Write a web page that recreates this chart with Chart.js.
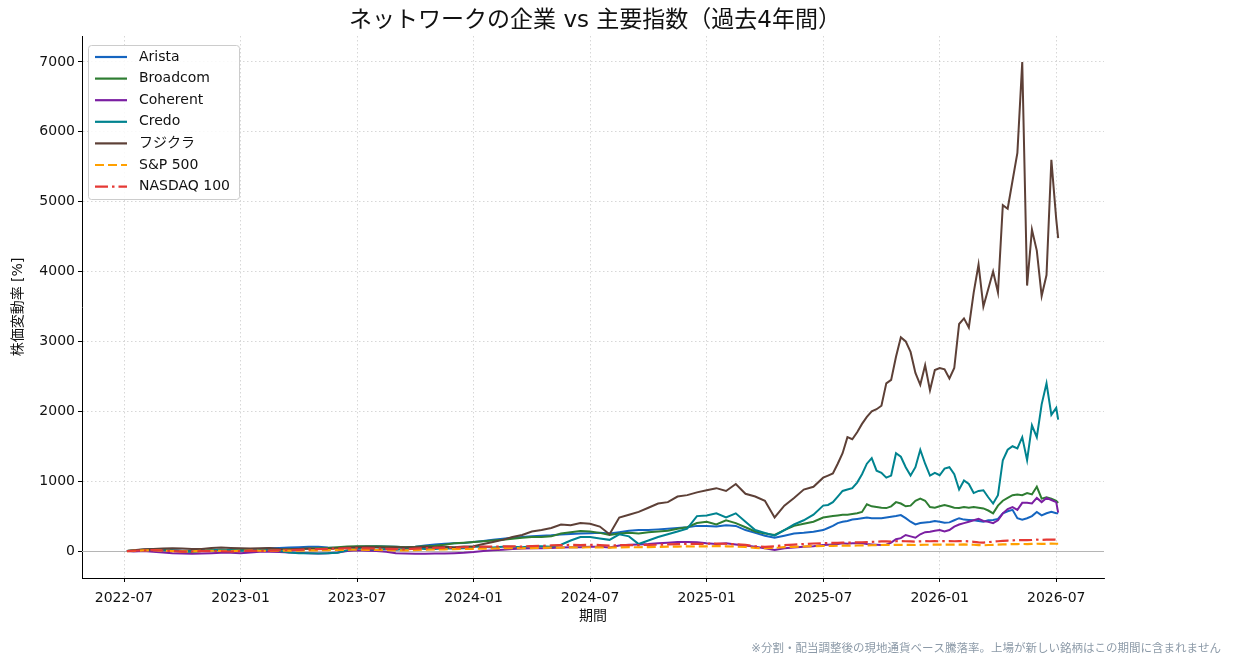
<!DOCTYPE html>
<html lang="ja">
<head>
<meta charset="utf-8">
<title>ネットワークの企業 vs 主要指数（過去4年間）</title>
<script src="https://cdn.jsdelivr.net/npm/chart.js@4.4.1/dist/chart.umd.min.js"></script>
<style>
  html, body { margin: 0; padding: 0; background: #fff; }
  #wrap { width: 1233px; height: 666px; }
</style>
</head>
<body>
<div id="wrap"><canvas id="chart" width="1233" height="666"></canvas></div>
<script>
// x positions: months counted from 2022-01 (6 = 2022-07)
const months = [
  6.15, 6.5, 7, 7.5, 8, 8.5, 9, 9.5, 10, 10.5, 11, 11.5, 12, 12.5, 13, 13.5, 14, 14.5,
  15, 15.5, 16, 16.5, 17, 17.5, 18, 18.5, 19, 19.5, 20, 20.5, 21, 21.5, 22, 22.5, 23, 23.5,
  24, 24.5, 25, 25.5, 26, 26.5, 27, 27.5, 28, 28.5, 29, 29.5, 30, 30.5, 31, 31.5, 32, 32.5,
  33, 33.5, 34, 34.5, 35, 35.5, 36, 36.5, 37, 37.5, 38, 38.5, 39, 39.5, 40, 40.5, 41, 41.5, 42,
  42.25, 42.5, 42.75, 43, 43.25, 43.5, 43.75, 44, 44.25, 44.5, 44.75, 45, 45.25, 45.5, 45.75, 46,
  46.25, 46.5, 46.75, 47, 47.25, 47.5, 47.75, 48, 48.25, 48.5, 48.75, 49, 49.25, 49.5, 49.75, 50,
  50.25, 50.5, 50.75, 51, 51.25, 51.5, 51.75, 52, 52.25, 52.5, 52.75, 53, 53.25, 53.5, 53.75, 54, 54.1
];

const arista = [
  0, 5, 10, 20, 20, 10, 5, 0, 10, 15, 20, 15, 10, 20, 30, 40, 45, 50,
  55, 60, 60, 50, 45, 50, 60, 65, 70, 65, 60, 55, 60, 80, 95, 105, 110, 115,
  130, 145, 160, 175, 190, 200, 210, 220, 225, 235, 245, 250, 255, 260, 250, 270, 290, 300,
  300, 310, 320, 330, 340, 360, 360, 350, 370, 360, 300, 260, 220, 190, 220, 250, 260, 275, 300,
  330, 360, 400, 420, 430, 450, 460, 470, 480, 470, 470, 470, 480, 490, 500, 515,
  470, 420, 380, 400, 410, 415, 430, 420, 405, 410, 440, 470, 450, 445, 440, 430,
  420, 440, 445, 460, 540, 570, 590, 470, 450, 470, 500, 560, 510, 540, 560, 540, 540
];
const broadcom = [
  0, 5, 15, 20, 10, 0, -5, -10, 0, 10, 15, 10, 10, 15, 20, 20, 20, 25,
  30, 35, 40, 45, 55, 65, 70, 70, 70, 65, 60, 55, 60, 70, 75, 90, 110, 120,
  130, 140, 150, 160, 175, 190, 200, 200, 210, 250, 270, 285, 280, 260, 230, 250, 260, 250,
  270, 280, 290, 320, 340, 400, 420, 380, 440, 400, 340, 280, 250, 230, 300, 360, 390, 420, 480,
  490, 500, 510, 520, 520, 530, 540, 560, 670, 640, 630, 620, 615, 640, 700, 680,
  640, 650, 720, 750, 720, 630, 620, 640, 660, 640, 620, 615, 630, 620, 630, 620,
  610, 580, 540, 650, 720, 760, 800, 810, 800, 830, 810, 920, 750, 770, 750, 720, 690
];
const coherent = [
  0, -5, 0, -10, -20, -30, -35, -40, -35, -30, -25, -25, -30, -20, -10, -10, -15, -20,
  -25, -30, -35, -30, -20, 0, 10, 5, 0, -10, -30, -35, -40, -40, -35, -35, -30, -25,
  -15, 0, 10, 20, 30, 35, 40, 40, 45, 50, 55, 55, 60, 60, 50, 80, 90, 95,
  100, 110, 120, 130, 130, 125, 110, 100, 110, 95, 80, 60, 40, 15, 40, 50, 60, 70, 85,
  90, 95, 100, 110, 105, 110, 110, 110, 100, 95, 90, 85, 90, 120, 170, 185,
  230, 210, 190, 240, 270, 275, 290, 300, 280, 300, 350, 380, 400, 420, 440, 460,
  430, 420, 400, 440, 540, 600, 630, 590, 690, 690, 680, 760, 700, 760, 730, 700, 550
];
const credo = [
  0, 10, 20, 30, 20, 10, 0, -10, 0, 10, 20, 10, 5, 10, 30, 20, 0, -20,
  -30, -30, -35, -30, -25, 10, 40, 30, 20, 30, 20, 30, 40, 30, 30, 40, 35, 40,
  60, 60, 50, 60, 60, 55, 70, 70, 60, 90, 150, 200, 200, 180, 160, 240, 210, 100,
  150, 200, 240, 280, 320, 500, 510, 540, 480, 540, 420, 300, 260, 220, 300, 380, 440, 520, 650,
  660, 700, 780, 860, 880, 900, 980, 1100, 1250, 1330, 1150, 1120, 1050, 1080, 1400, 1350,
  1200, 1080, 1200, 1450, 1250, 1080, 1120, 1085, 1180, 1200, 1100, 880, 1010, 960, 830, 860,
  870, 770, 680, 800, 1300, 1450, 1500, 1470, 1630, 1300, 1800, 1630, 2100, 2400, 1950, 2050, 1880
];
const fujikura = [
  0, 10, 25, 30, 35, 40, 35, 30, 30, 45, 50, 45, 40, 35, 40, 45, 30, 25,
  30, 35, 30, 30, 40, 50, 55, 60, 55, 50, 55, 50, 55, 60, 55, 60, 55, 65,
  70, 100, 130, 160, 200, 230, 280, 300, 330, 380, 370, 400, 390, 350, 240, 480, 520, 560,
  620, 680, 700, 780, 800, 840, 870, 900, 860, 960, 820, 780, 720, 480, 650, 760, 880, 920, 1050,
  1080, 1110, 1250, 1400, 1630, 1600, 1700, 1820, 1920, 2000, 2030, 2080, 2400, 2450, 2780, 3060,
  3000, 2850, 2550, 2380, 2660, 2300, 2590, 2620, 2600, 2470, 2620, 3250, 3330, 3200, 3700, 4100,
  3500, 3750, 4000, 3700, 4950, 4900, 5300, 5700, 7000, 3800, 4600, 4300, 3650, 3950, 5600, 4750, 4480
];
const sp500 = [
  0, 3, 8, 12, 6, 0, -6, -5, 2, 4, 3, 0, 3, 6, 4, 2, 4, 6,
  7, 8, 10, 14, 16, 18, 20, 18, 15, 12, 10, 8, 14, 20, 22, 25, 27, 30,
  32, 34, 36, 40, 42, 40, 43, 45, 48, 50, 52, 50, 54, 52, 48, 52, 55, 54,
  57, 58, 62, 64, 66, 65, 67, 70, 68, 64, 58, 45, 40, 45, 55, 60, 65, 70, 72,
  73, 74, 76, 77, 77, 78, 79, 80, 82, 83, 84, 86, 87, 86, 88, 89,
  88, 87, 86, 89, 90, 90, 91, 91, 92, 93, 92, 93, 94, 92, 90, 85,
  82, 86, 89, 92, 95, 97, 99, 100, 101, 100, 102, 104, 103, 104, 105, 104, 104
];
const nasdaq100 = [
  0, 4, 10, 15, 8, 0, -8, -7, -2, 0, -3, -7, -2, 5, 3, 5, 10, 14,
  17, 22, 27, 32, 36, 38, 40, 38, 34, 30, 26, 24, 34, 42, 44, 48, 50, 54,
  58, 62, 64, 66, 66, 64, 70, 74, 80, 84, 88, 84, 90, 86, 78, 84, 86, 84,
  88, 90, 94, 98, 104, 102, 104, 108, 104, 96, 88, 68, 60, 68, 84, 92, 100, 108, 112,
  114, 116, 118, 120, 121, 122, 124, 126, 128, 131, 134, 137, 139, 136, 140, 142,
  140, 137, 134, 139, 141, 140, 141, 140, 142, 143, 140, 141, 142, 138, 132, 124,
  120, 128, 134, 140, 146, 150, 153, 156, 158, 155, 158, 162, 160, 162, 164, 162, 162
];

const seriesNames = ["Arista", "Broadcom", "Coherent", "Credo", "フジクラ", "S&P 500", "NASDAQ 100"];
const seriesValues = [arista, broadcom, coherent, credo, fujikura, sp500, nasdaq100];
const seriesColors = ["#1565C0", "#2E7D32", "#7B1FA2", "#00838F", "#5D4037", "#FFA000", "#E53935"];
const seriesDashes = [[], [], [], [], [], [9, 4], [13, 4, 2.5, 4]];
const xTicks = [6, 12, 18, 24, 30, 36, 42, 48, 54];
const yTicks = [0, 1000, 2000, 3000, 4000, 5000, 6000, 7000];

const FONT = "'DejaVu Sans', 'Noto Sans CJK JP', sans-serif";
Chart.defaults.font.family = FONT;
Chart.defaults.font.size = 14;
Chart.defaults.color = "#111";

function monthLabel(v) {
  const y = 2022 + Math.floor(v / 12);
  const m = (v % 12) + 1;
  return y + "-" + String(m).padStart(2, "0");
}

const overlay = {
  id: "overlay",
  beforeDatasetsDraw(chart) {
    const { ctx, chartArea, scales } = chart;
    const y0 = Math.round(scales.y.getPixelForValue(0)) + 0.5;
    ctx.save();
    ctx.strokeStyle = "#b5b5b5";
    ctx.lineWidth = 1;
    ctx.beginPath();
    ctx.moveTo(chartArea.left, y0);
    ctx.lineTo(chartArea.right, y0);
    ctx.stroke();
    ctx.restore();
  },
  afterDraw(chart) {
    const { ctx, chartArea } = chart;
    const cx = (chartArea.left + chartArea.right) / 2;
    const cy = (chartArea.top + chartArea.bottom) / 2;
    ctx.save();
    ctx.fillStyle = "#111";
    ctx.textAlign = "center";
    ctx.textBaseline = "middle";
    ctx.font = "23px " + FONT;
    ctx.fillText("ネットワークの企業 vs 主要指数（過去4年間）", cx + 2, 21);
    ctx.font = "14px " + FONT;
    ctx.fillText("期間", cx, 616);
    ctx.save();
    ctx.translate(18, cy);
    ctx.rotate(-Math.PI / 2);
    ctx.fillText("株価変動率 [%]", 0, 0);
    ctx.restore();
    ctx.font = "11.5px " + FONT;
    ctx.fillStyle = "#8c9aa8";
    ctx.textAlign = "right";
    ctx.fillText("※分割・配当調整後の現地通貨ベース騰落率。上場が新しい銘柄はこの期間に含まれません", 1221, 649);

    // legend box inside the plot, upper left
    const lx = 88.5, ly = 45.5, lw = 151, lh = 154;
    ctx.fillStyle = "rgba(255,255,255,0.85)";
    ctx.strokeStyle = "#cccccc";
    ctx.lineWidth = 1;
    ctx.beginPath();
    ctx.roundRect(lx, ly, lw, lh, 3);
    ctx.fill();
    ctx.stroke();
    ctx.font = "14px " + FONT;
    ctx.textAlign = "left";
    seriesNames.forEach((name, i) => {
      const ry = 57 + i * 21.6;
      ctx.strokeStyle = seriesColors[i];
      ctx.lineWidth = 2.2;
      ctx.setLineDash(seriesDashes[i]);
      ctx.beginPath();
      ctx.moveTo(95, ry);
      ctx.lineTo(127, ry);
      ctx.stroke();
      ctx.setLineDash([]);
      ctx.fillStyle = "#111";
      ctx.fillText(name, 139, ry);
    });
    ctx.restore();
  }
};

const datasets = seriesNames.map((name, i) => ({
  label: name,
  data: months.map((m, j) => ({ x: m, y: seriesValues[i][j] })),
  borderColor: seriesColors[i],
  borderWidth: i >= 5 ? 2.2 : 2,
  borderDash: seriesDashes[i],
  pointRadius: 0,
  tension: 0,
  fill: false,
  order: seriesNames.length - i
}));

new Chart(document.getElementById("chart"), {
  type: "line",
  data: { datasets },
  options: {
    responsive: false,
    animation: false,
    layout: { padding: { top: 36, right: 129, left: 0, bottom: 0 } },
    plugins: { legend: { display: false }, title: { display: false }, tooltip: { enabled: false } },
    scales: {
      x: {
        type: "linear",
        min: 3.837,
        max: 56.46,
        afterBuildTicks: (scale) => { scale.ticks = xTicks.map((v) => ({ value: v })); },
        afterFit: (scale) => { scale.height = 88; },
        ticks: { callback: (v) => monthLabel(v), padding: 8, maxRotation: 0, autoSkip: false },
        grid: { color: "rgba(0,0,0,0.2)", lineWidth: 0.8, tickColor: "#000", tickLength: 4, tickWidth: 1 },
        border: { color: "#000", width: 1, dash: [1.5, 2.5] }
      },
      y: {
        type: "linear",
        min: -386,
        max: 7372,
        afterBuildTicks: (scale) => { scale.ticks = yTicks.map((v) => ({ value: v })); },
        afterFit: (scale) => { scale.width = 82; },
        ticks: { padding: 3, callback: (v) => String(v) },
        grid: { color: "rgba(0,0,0,0.2)", lineWidth: 0.8, tickColor: "#000", tickLength: 4, tickWidth: 1 },
        border: { color: "#000", width: 1, dash: [1.5, 2.5] }
      }
    }
  },
  plugins: [overlay]
});
</script>
</body>
</html>
